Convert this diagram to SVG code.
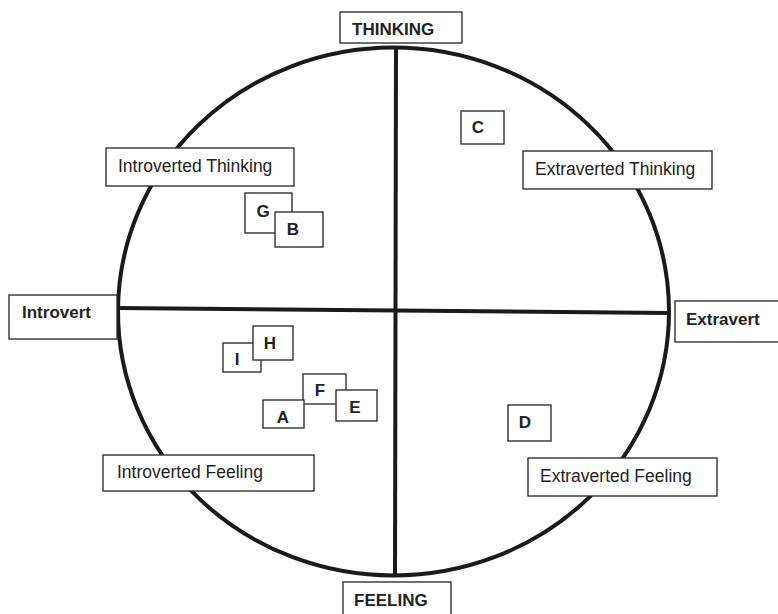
<svg xmlns="http://www.w3.org/2000/svg" width="778" height="614" viewBox="0 0 778 614">
<style>
.box{fill:#fff;stroke:#222;stroke-width:1.3}
.lbl{font-family:"Liberation Sans",Arial,sans-serif;font-size:17.5px;fill:#222}
.b{font-family:"Liberation Sans",Arial,sans-serif;font-size:17px;font-weight:bold;fill:#222}
.ax{fill:none;stroke:#1a1a1a;stroke-width:4}
</style>
<rect width="778" height="614" fill="#fff"/>
<g id="connectors">
<ellipse class="ax" cx="393.5" cy="311.5" rx="275.5" ry="264"/>
<line class="ax" x1="396" y1="46" x2="395" y2="577"/>
<line class="ax" x1="118" y1="308" x2="669" y2="313"/>
</g>
<g id="thinking"><rect class="box" x="340" y="12" width="122" height="31"/><text class="b" x="352" y="35">THINKING</text></g>
<g id="introvert"><rect class="box" x="9" y="295" width="108" height="44"/><text class="b" x="22" y="318">Introvert</text></g>
<g id="extravert"><rect class="box" x="675" y="301" width="110" height="41"/><text class="b" x="686" y="325">Extravert</text></g>
<g id="feeling"><rect class="box" x="343" y="582" width="108" height="40"/><text class="b" x="354" y="606">FEELING</text></g>
<g id="introverted-thinking"><rect class="box" x="106" y="148" width="188" height="38"/><text class="lbl" x="118" y="172">Introverted Thinking</text></g>
<g id="extraverted-thinking"><rect class="box" x="523" y="151" width="189" height="38"/><text class="lbl" x="535" y="175">Extraverted Thinking</text></g>
<g id="introverted-feeling"><rect class="box" x="103" y="455" width="211" height="36"/><text class="lbl" x="117" y="478">Introverted Feeling</text></g>
<g id="extraverted-feeling"><rect class="box" x="528" y="458" width="189" height="38"/><text class="lbl" x="540" y="482">Extraverted Feeling</text></g>
<g id="node-C"><rect class="box" x="461" y="111" width="43" height="33"/><text class="b" x="478" y="133" text-anchor="middle">C</text></g>
<g id="node-G"><rect class="box" x="245" y="193" width="47" height="40"/><text class="b" x="263" y="217" text-anchor="middle">G</text></g>
<g id="node-B"><rect class="box" x="275" y="212" width="48" height="35"/><text class="b" x="293" y="235" text-anchor="middle">B</text></g>
<g id="node-I"><rect class="box" x="223" y="343" width="38" height="29"/><text class="b" x="237" y="365" text-anchor="middle">I</text></g>
<g id="node-H"><rect class="box" x="253" y="326" width="40" height="34"/><text class="b" x="270" y="349" text-anchor="middle">H</text></g>
<g id="node-F"><rect class="box" x="303" y="374" width="43" height="30"/><text class="b" x="320" y="396" text-anchor="middle">F</text></g>
<g id="node-A"><rect class="box" x="263" y="400" width="41" height="28"/><text class="b" x="283" y="423" text-anchor="middle">A</text></g>
<g id="node-E"><rect class="box" x="336" y="390" width="41" height="31"/><text class="b" x="355" y="413" text-anchor="middle">E</text></g>
<g id="node-D"><rect class="box" x="508" y="405" width="43" height="36"/><text class="b" x="525" y="428" text-anchor="middle">D</text></g>
</svg>
